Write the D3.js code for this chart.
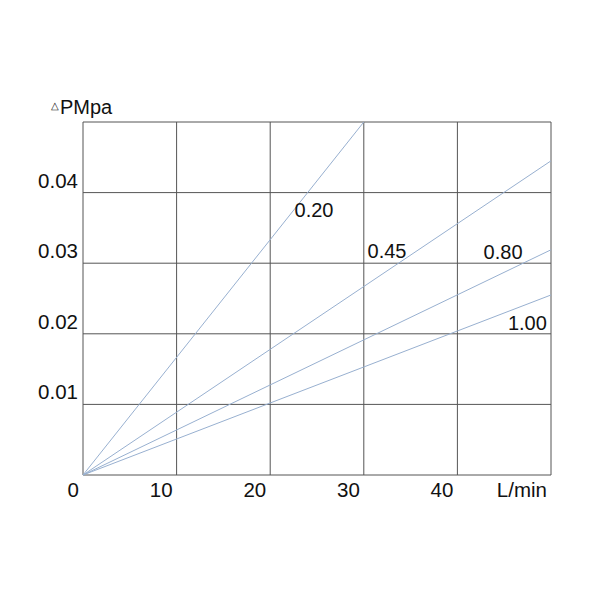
<!DOCTYPE html>
<html>
<head>
<meta charset="utf-8">
<script src="https://cdn.jsdelivr.net/npm/d3@7"></script>
<style>
  body { margin: 0; background: #fff; }
  text { font-family: "Liberation Sans", Arial, sans-serif; fill: #111; }
</style>
</head>
<body>
<div id="chart"></div>
<script>
// chart values
var xTicks = [0, 10, 20, 30, 40, 50];
var xTickLabels = ["0", "10", "20", "30", "40", "L/min"];
var yTicks = [0, 0.01, 0.02, 0.03, 0.04, 0.05];
var yTickLabels = ["", "0.01", "0.02", "0.03", "0.04", ""];

// pressure drop lines (flow L/min, dP MPa)
var seriesNames = ["0.20", "0.45", "0.80", "1.00"];
var seriesEnds = [[30, 0.05], [50, 0.0445], [50, 0.0319], [50, 0.0255]];
// where each name sits (flow, dP)
var labelAt = [[22.6, 0.0366], [30.4, 0.0308], [42.8, 0.0306], [45.4, 0.0205]];

var svgWidth = 600;
var svgHeight = 600;
var margin = { top: 122, right: 49, bottom: 125, left: 83 };
var width = svgWidth - margin.left - margin.right;
var height = svgHeight - margin.top - margin.bottom;

var svg = d3.select("#chart")
  .append("svg")
  .attr("width", svgWidth)
  .attr("height", svgHeight);

var chartGroup = svg.append("g")
  .attr("transform", `translate(${margin.left}, ${margin.top})`);

var x = d3.scaleLinear().domain([0, 50]).range([0, width]);
var y = d3.scaleLinear().domain([0, 0.05]).range([height, 0]);

// grid
chartGroup.selectAll(".vgrid")
  .data(xTicks)
  .enter()
  .append("line")
  .attr("x1", d => x(d)).attr("x2", d => x(d))
  .attr("y1", 0).attr("y2", height)
  .attr("stroke", "#555")
  .attr("stroke-width", 1);

chartGroup.selectAll(".hgrid")
  .data(yTicks)
  .enter()
  .append("line")
  .attr("x1", 0).attr("x2", width)
  .attr("y1", d => y(d)).attr("y2", d => y(d))
  .attr("stroke", "#555")
  .attr("stroke-width", 1);

// x labels
chartGroup.selectAll(".xlab")
  .data(xTicks)
  .enter()
  .append("text")
  .attr("x", d => x(d) - 4)
  .attr("y", height + 22)
  .attr("text-anchor", "end")
  .style("font-size", "20.5px")
  .text((d, i) => xTickLabels[i]);

// y labels
chartGroup.selectAll(".ylab")
  .data(yTicks)
  .enter()
  .append("text")
  .attr("x", -5)
  .attr("y", d => y(d) - 5)
  .attr("text-anchor", "end")
  .style("font-size", "20.5px")
  .text((d, i) => yTickLabels[i]);

// y title
var title = svg.append("text")
  .attr("x", 51)
  .attr("y", 114)
  .style("font-size", "20px");
title.append("tspan").style("font-size", "10px").attr("dy", -5).text("\u25B3");
title.append("tspan").attr("dx", 1).attr("dy", 5).text("PMpa");

// lines
var line = d3.line().x(d => x(d[0])).y(d => y(d[1]));
chartGroup.selectAll(".dp")
  .data(seriesEnds)
  .enter()
  .append("path")
  .attr("d", d => line([[0, 0], d]))
  .attr("fill", "none")
  .attr("stroke", "#98b0d0")
  .attr("stroke-width", 1);

chartGroup.selectAll(".dplab")
  .data(labelAt)
  .enter()
  .append("text")
  .attr("x", d => x(d[0]))
  .attr("y", d => y(d[1]))
  .style("font-size", "20px")
  .text((d, i) => seriesNames[i]);
</script>
</body>
</html>
